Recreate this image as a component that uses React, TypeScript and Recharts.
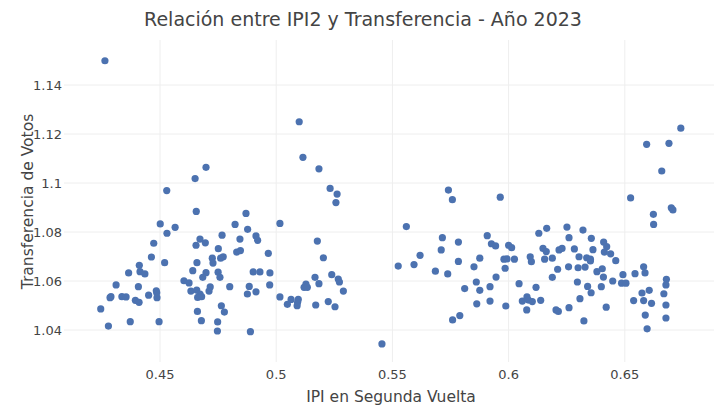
import React from "react";
import { ScatterChart, Scatter, XAxis, YAxis, CartesianGrid } from "recharts";

const TITLE = "Relación entre IPI2 y Transferencia - Año 2023";
const X_TITLE = "IPI en Segunda Vuelta";
const Y_TITLE = "Transferencia de Votos";

const xTicks = [0.45, 0.5, 0.55, 0.6, 0.65];
const yTicks = [1.04, 1.06, 1.08, 1.1, 1.12, 1.14];

const ipiA = [0.4263,0.4529,0.4651,0.4698,0.4656,0.4501,0.4565,0.4530,0.4823,0.4767,0.4844,0.4672,0.4655,0.4695,0.4473,0.4751,0.4830,0.4463,0.4725,0.4772,0.4761,0.4728,0.4659,0.4520,0.4411,0.4414,0.4435,0.4365,0.4641,0.4698,0.4684,0.4750,0.4758,0.4603,0.4625,0.4311,0.4407,0.4716,0.4711,0.4800,0.4484,0.4486,0.4633,0.4658,0.4672,0.4662,0.4679,0.4289,0.4285,0.4336,0.4354,0.4451,0.4487,0.4394,0.4410,0.4245,0.4764,0.4777,0.4661,0.4678,0.4748,0.4747,0.4372,0.4278,0.4496];
const transA = [1.1499,1.0969,1.1018,1.1064,1.0884,1.0833,1.0819,1.0795,1.0831,1.0787,1.0771,1.0771,1.0746,1.0756,1.0754,1.0732,1.0718,1.0698,1.0693,1.0699,1.0693,1.0673,1.0675,1.0675,1.0664,1.0638,1.0629,1.0633,1.0642,1.0634,1.0615,1.0636,1.0615,1.0601,1.0592,1.0584,1.0577,1.0576,1.0559,1.0577,1.0560,1.0552,1.0559,1.0563,1.0547,1.0533,1.0536,1.0536,1.0532,1.0536,1.0535,1.0542,1.0532,1.0521,1.0513,1.0486,1.0499,1.0473,1.0476,1.0438,1.0433,1.0396,1.0434,1.0416,1.0434];

const ipiB = [0.5099,0.5115,0.5184,0.5232,0.5262,0.5257,0.4870,0.5016,0.4877,0.4913,0.4920,0.5177,0.4846,0.4966,0.5203,0.4901,0.4930,0.4973,0.5239,0.5167,0.5267,0.5272,0.5184,0.5128,0.5120,0.5134,0.4884,0.4972,0.4876,0.4913,0.5289,0.5016,0.5064,0.5048,0.5095,0.5092,0.5090,0.5170,0.5224,0.5253,0.4889,0.5455,0.5525];
const transB = [1.1250,1.1105,1.1058,1.0978,1.0955,1.0920,1.0876,1.0835,1.0811,1.0784,1.0766,1.0763,1.0724,1.0713,1.0695,1.0637,1.0637,1.0633,1.0626,1.0615,1.0608,1.0596,1.0589,1.0587,1.0574,1.0574,1.0578,1.0584,1.0547,1.0556,1.0559,1.0535,1.0525,1.0505,1.0525,1.0513,1.0499,1.0502,1.0516,1.0495,1.0393,1.0343,1.0661];

const ipiC = [0.5741,0.5758,0.5964,0.5560,0.5715,0.5784,0.5710,0.5908,0.5926,0.5944,0.6000,0.6013,0.6130,0.6164,0.6148,0.6162,0.6217,0.5619,0.5593,0.5784,0.5876,0.5851,0.5980,0.5993,0.6025,0.6093,0.6098,0.6155,0.6188,0.5985,0.6211,0.5685,0.5738,0.5946,0.6188,0.5861,0.6045,0.5811,0.5876,0.5920,0.6118,0.5863,0.5920,0.5988,0.6079,0.6059,0.6085,0.6102,0.6138,0.6078,0.6204,0.6214,0.5759,0.5790];
const transC = [1.0971,1.0932,1.0942,1.0822,1.0777,1.0759,1.0727,1.0785,1.0752,1.0743,1.0746,1.0736,1.0795,1.0815,1.0733,1.0720,1.0727,1.0705,1.0667,1.0680,1.0693,1.0658,1.0689,1.0690,1.0689,1.0699,1.0679,1.0689,1.0693,1.0652,1.0648,1.0640,1.0629,1.0616,1.0615,1.0596,1.0589,1.0569,1.0562,1.0577,1.0574,1.0507,1.0518,1.0498,1.0535,1.0518,1.0522,1.0516,1.0521,1.0482,1.0482,1.0476,1.0441,1.0459];

const ipiD = [0.6659,0.6525,0.6623,0.6624,0.6700,0.6707,0.6251,0.6320,0.6260,0.6356,0.6409,0.6422,0.6363,0.6412,0.6439,0.6230,0.6283,0.6303,0.6336,0.6352,0.6352,0.6461,0.6258,0.6299,0.6329,0.6380,0.6403,0.6408,0.6296,0.6340,0.6355,0.6399,0.6448,0.6492,0.6486,0.6505,0.6544,0.6581,0.6587,0.6679,0.6677,0.6605,0.6574,0.6668,0.6538,0.6581,0.6615,0.6677,0.6307,0.6260,0.6420,0.6588,0.6677,0.6324,0.6596,0.6741,0.6594,0.6690];
const transD = [1.1049,1.0939,1.0872,1.0831,1.0899,1.0890,1.0820,1.0808,1.0777,1.0774,1.0759,1.0740,1.0728,1.0718,1.0711,1.0733,1.0731,1.0699,1.0695,1.0689,1.0682,1.0683,1.0658,1.0654,1.0657,1.0638,1.0650,1.0616,1.0596,1.0578,1.0552,1.0577,1.0600,1.0626,1.0591,1.0591,1.0630,1.0658,1.0633,1.0607,1.0584,1.0562,1.0551,1.0548,1.0520,1.0520,1.0509,1.0502,1.0528,1.0491,1.0493,1.0461,1.0449,1.0437,1.0405,1.1224,1.1158,1.1162];

const pairs = (xs: number[], ys: number[]) => xs.map((x, i) => ({ x, y: ys[i] }));
const data = [
  ...pairs(ipiA, transA),
  ...pairs(ipiB, transB),
  ...pairs(ipiC, transC),
  ...pairs(ipiD, transD),
];

const FONT = "'DejaVu Sans', Verdana, sans-serif";
const DOT = "#4C72B0";
const fmt = (v: number) => String(+v.toFixed(2));

const Dot = (p: any) => <circle cx={p.cx} cy={p.cy} r={3.6} fill={DOT} />;

const applyScale = (axis: any, v: number) => {
  const s = axis && axis.scale;
  if (!s) return NaN;
  if (typeof s === "function") return s(v);
  if (typeof s.map === "function") return s.map(v);
  return NaN;
};

const vGen = (props: any) =>
  xTicks.map((t) => applyScale(props.xAxis, t)).filter((v) => Number.isFinite(v));
const hGen = (props: any) =>
  yTicks.map((t) => applyScale(props.yAxis, t)).filter((v) => Number.isFinite(v));

export default function App() {
  return (
    <div style={{ position: "absolute", left: 0, top: 0, width: 714, height: 406, background: "#fff" }}>
      <ScatterChart width={714} height={406} margin={{ top: 40, right: 0, bottom: 0, left: 0 }}>
        <CartesianGrid
          stroke="#eeeeee"
          strokeWidth={1}
          verticalCoordinatesGenerator={vGen}
          horizontalCoordinatesGenerator={hGen}
        />
        <XAxis
          type="number"
          dataKey="x"
          domain={[0.40869, 0.68838]}
          ticks={xTicks}
          allowDataOverflow
          axisLine={false}
          tickLine={false}
          tickSize={0}
          tickMargin={8}
          height={44}
          tickFormatter={fmt}
          tick={{ fontFamily: FONT, fontSize: 13, fill: "#444" }}
        />
        <YAxis
          type="number"
          dataKey="y"
          domain={[1.02694, 1.15837]}
          ticks={yTicks}
          allowDataOverflow
          axisLine={false}
          tickLine={false}
          tickSize={0}
          tickMargin={2}
          width={64}
          tickFormatter={fmt}
          tick={{ fontFamily: FONT, fontSize: 13, fill: "#444" }}
        />
        <Scatter data={data} fill={DOT} shape={Dot} isAnimationActive={false} />
      </ScatterChart>
      <svg
        width={714}
        height={406}
        style={{ position: "absolute", left: 0, top: 0, pointerEvents: "none" }}
      >
        <text x={363} y={26} textAnchor="middle" fontFamily={FONT} fontSize={19} fill="#444">
          {TITLE}
        </text>
        <text
          x={33}
          y={201.5}
          textAnchor="middle"
          transform="rotate(-90 33 201.5)"
          fontFamily={FONT}
          fontSize={15.5}
          fill="#444"
        >
          {Y_TITLE}
        </text>
        <text x={391} y={402} textAnchor="middle" fontFamily={FONT} fontSize={15.5} fill="#444">
          {X_TITLE}
        </text>
      </svg>
    </div>
  );
}
